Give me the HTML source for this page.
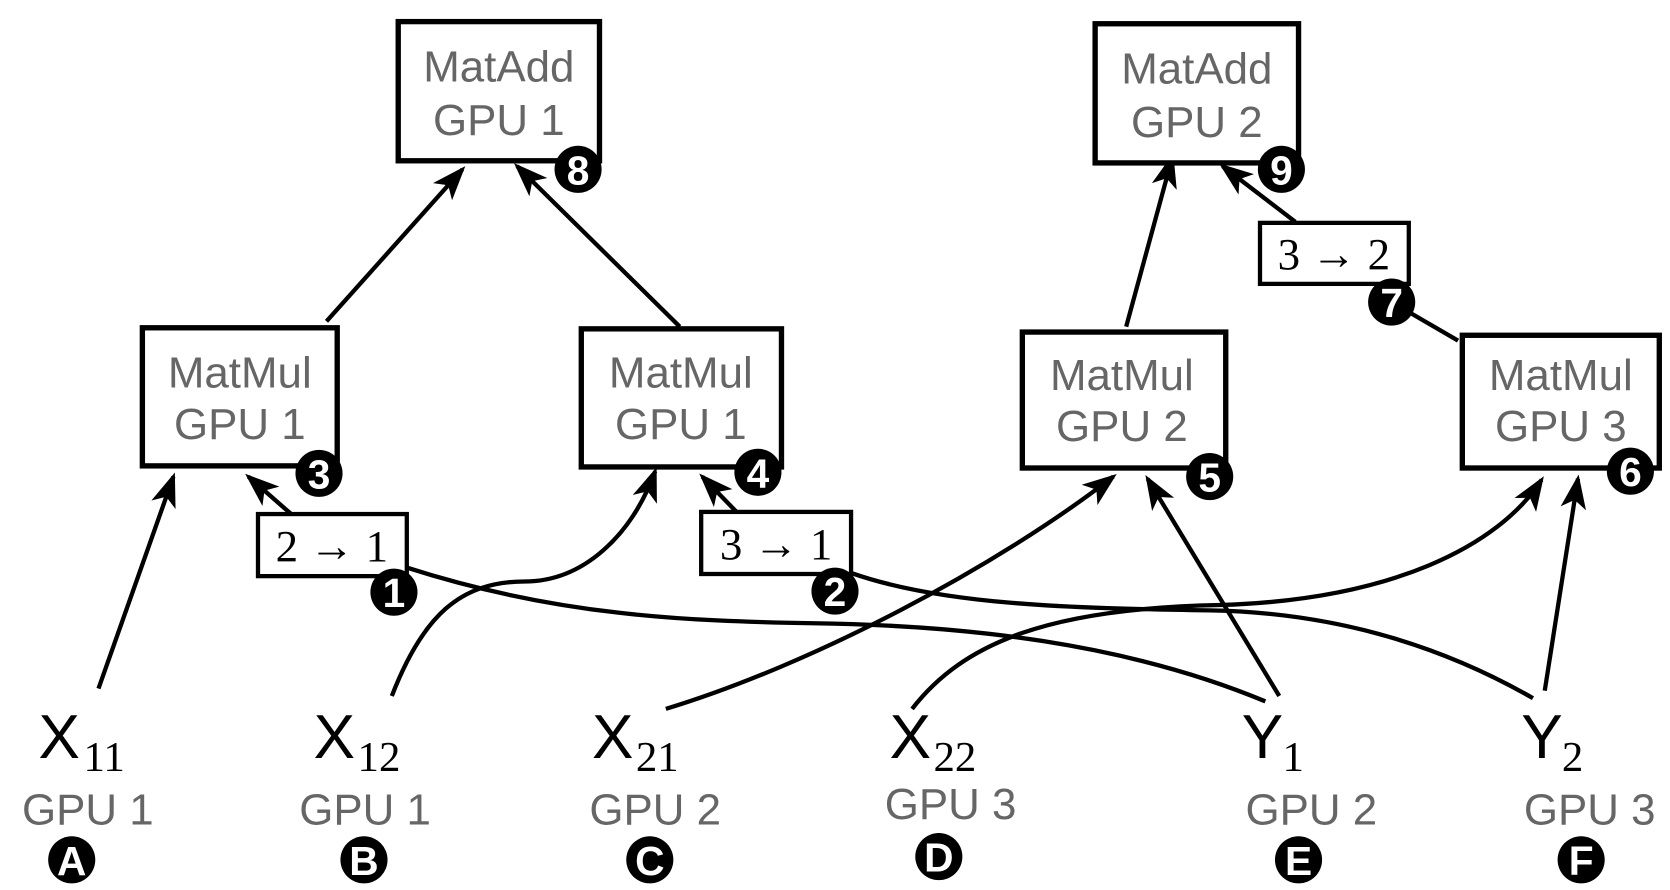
<!DOCTYPE html>
<html><head><meta charset="utf-8"><style>
html,body{margin:0;padding:0;background:#fff;}
svg{display:block;}
.g{font-family:"Liberation Sans",sans-serif;fill:#666;font-size:41px;text-anchor:middle;}
.v{font-family:"Liberation Sans",sans-serif;fill:#000;font-size:58px;}
.s{font-family:"Liberation Serif",serif;fill:#000;font-size:40px;}
.b{font-family:"Liberation Sans",sans-serif;fill:#fff;font-size:38px;font-weight:bold;text-anchor:middle;}
.l{font-family:"Liberation Serif",serif;fill:#000;font-size:42px;text-anchor:middle;}
</style></head><body>
<svg width="1670" height="890" viewBox="0 0 1560 831" xmlns="http://www.w3.org/2000/svg">
<defs><marker id="a" markerWidth="8" markerHeight="6" refX="7" refY="3" orient="auto" markerUnits="strokeWidth"><path d="M0,0 L8,3 L0,6 L2,3 z" fill="#000"/></marker></defs>
<g fill="none" stroke="#000" stroke-width="4">
<path d="M305,300 L432,158" marker-end="url(#a)"/>
<path d="M635,305 L483,155" marker-end="url(#a)"/>
<path d="M1052,305 L1095,147" marker-end="url(#a)"/>
<path d="M1362,318 L1300,282"/>
<path d="M1210,207 L1142,155" marker-end="url(#a)"/>
<path d="M92,643 L162,445" marker-end="url(#a)"/>
<path d="M272,480 L232,445" marker-end="url(#a)"/>
<path d="M366,650 C395,575 430,543 490,543 C545,543 590,500 612,440" marker-end="url(#a)"/>
<path d="M688,478 L656,445" marker-end="url(#a)"/>
<path d="M622,662 C760,620 930,530 1040,445" marker-end="url(#a)"/>
<path d="M1195,650 L1072,447" marker-end="url(#a)"/>
<path d="M852,662 C900,600 980,568 1140,565 C1300,560 1400,510 1440,448" marker-end="url(#a)"/>
<path d="M1443,645 L1474,447" marker-end="url(#a)"/>
<path d="M380,530 C520,575 640,580 760,582 C900,584 1050,600 1182,655"/>
<path d="M795,535 C880,565 1000,568 1130,570 C1250,572 1350,605 1432,652"/>
</g>
<g fill="#fff" stroke="#000" stroke-width="5">
<rect x="372" y="20" width="188" height="130"/>
<rect x="1023" y="22" width="190" height="130"/>
<rect x="133" y="306" width="182" height="129"/>
<rect x="543" y="307" width="187" height="129"/>
<rect x="955" y="310" width="190" height="127"/>
<rect x="1366" y="313" width="184" height="124"/>
</g>
<g fill="#fff" stroke="#000" stroke-width="4">
<rect x="241" y="480" width="139" height="58"/>
<rect x="655" y="478" width="140" height="58"/>
<rect x="1177" y="208" width="139" height="57"/>
</g>
<text class="g" x="466" y="76">MatAdd</text><text class="g" x="466" y="126">GPU 1</text>
<text class="g" x="1118" y="78">MatAdd</text><text class="g" x="1118" y="128">GPU 2</text>
<text class="g" x="224" y="362">MatMul</text><text class="g" x="224" y="410">GPU 1</text>
<text class="g" x="636" y="362">MatMul</text><text class="g" x="636" y="410">GPU 1</text>
<text class="g" x="1048" y="364">MatMul</text><text class="g" x="1048" y="412">GPU 2</text>
<text class="g" x="1458" y="364">MatMul</text><text class="g" x="1458" y="412">GPU 3</text>
<text class="l" x="310" y="524">2 → 1</text>
<text class="l" x="725" y="522">3 → 1</text>
<text class="l" x="1246" y="251">3 → 2</text>
<g fill="#000">
<circle cx="540" cy="158" r="22"/><circle cx="1197" cy="158" r="22"/>
<circle cx="298" cy="442" r="22"/><circle cx="708" cy="441" r="22"/>
<circle cx="1130" cy="445" r="22"/><circle cx="1523" cy="440" r="22"/>
<circle cx="368" cy="553" r="22"/><circle cx="780" cy="552" r="22"/><circle cx="1300" cy="282" r="22"/>
<circle cx="67" cy="803" r="22"/><circle cx="340" cy="803" r="22"/><circle cx="607" cy="803" r="22"/>
<circle cx="877" cy="800" r="22"/><circle cx="1213" cy="803" r="22"/><circle cx="1477" cy="803" r="22"/>
</g>
<text class="b" x="540" y="172">8</text><text class="b" x="1197" y="172">9</text>
<text class="b" x="298" y="456">3</text><text class="b" x="708" y="455">4</text>
<text class="b" x="1130" y="459">5</text><text class="b" x="1523" y="454">6</text>
<text class="b" x="368" y="567">1</text><text class="b" x="780" y="566">2</text><text class="b" x="1300" y="296">7</text>
<text class="b" x="67" y="817">A</text><text class="b" x="340" y="817">B</text><text class="b" x="607" y="817">C</text>
<text class="b" x="877" y="814">D</text><text class="b" x="1213" y="817">E</text><text class="b" x="1477" y="817">F</text>
<text class="v" x="36" y="708">X</text><text class="s" x="78" y="720">11</text>
<text class="v" x="293" y="708">X</text><text class="s" x="334" y="720">12</text>
<text class="v" x="553" y="708">X</text><text class="s" x="594" y="720">21</text>
<text class="v" x="831" y="708">X</text><text class="s" x="872" y="720">22</text>
<text class="v" x="1160" y="708">Y</text><text class="s" x="1198" y="720">1</text>
<text class="v" x="1421" y="708">Y</text><text class="s" x="1459" y="720">2</text>
<text class="g" x="82" y="770">GPU 1</text>
<text class="g" x="341" y="770">GPU 1</text>
<text class="g" x="612" y="770">GPU 2</text>
<text class="g" x="888" y="765">GPU 3</text>
<text class="g" x="1225" y="770">GPU 2</text>
<text class="g" x="1485" y="770">GPU 3</text>
</svg>
</body></html>
